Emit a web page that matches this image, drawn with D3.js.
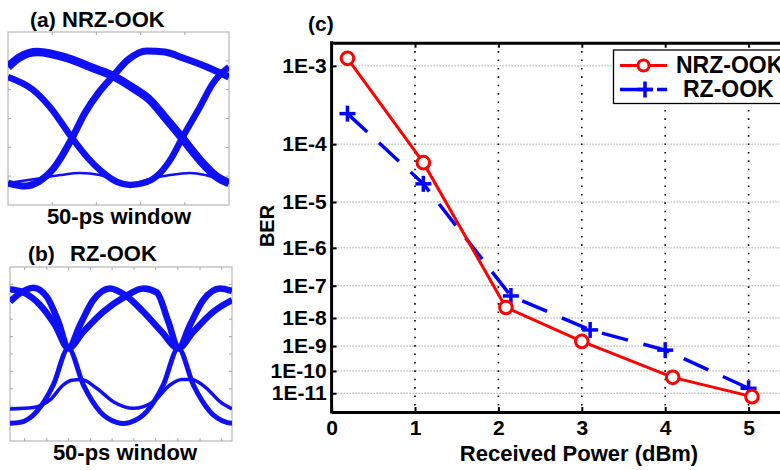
<!DOCTYPE html>
<html>
<head>
<meta charset="utf-8">
<script src="https://cdn.jsdelivr.net/npm/d3@7"></script>
<style>
body { margin: 0; background: #fff; }
text { font-family: "Liberation Sans", Arial, Helvetica, sans-serif; font-weight: bold; fill: #000; }
</style>
</head>
<body>
<script>
//BER curves for panel (c)
var powerNRZ = [0.19, 1.1, 2.09, 3.0, 4.09, 5.04];
var berNRZ = [1.2e-3, 5.1e-5, 2.2e-8, 1.5e-9, 5.3e-11, 6.9e-12];
var powerRZ = [0.19, 1.1, 2.15, 3.1, 4.0, 5.0];
var berRZ = [2.7e-4, 2.2e-5, 5.0e-8, 3.9e-9, 7.0e-10, 1.7e-11];

var berTicks = [1e-3, 1e-4, 1e-5, 1e-6, 1e-7, 1e-8, 1e-9, 1e-10, 1e-11];
var berLabels = ["1E-3", "1E-4", "1E-5", "1E-6", "1E-7", "1E-8", "1E-9", "1E-10", "1E-11"];
var berLimits = [1.72e-3, 1.19e-12];
var powerTicks = [0, 1, 2, 3, 4, 5];
var powerLimits = [0, 6];
var seriesNames = ["NRZ-OOK", "RZ-OOK"];

//eye traces: [time in ps, amplitude 0..100]
var eyeA_upper = [[0, 79.8], [2.7, 85.5], [6.6, 88.4], [13.3, 85.0], [19.2, 79.2], [23.8, 74.6], [28.3, 67.6],
    [32.1, 60.7], [36.0, 49.1], [39.4, 38.7], [43.4, 26.0], [47.3, 16.2], [50, 12.7]];
var eyeA_rise = [[0, 12.7], [3.8, 11.0], [7.2, 13.9], [10.0, 20.2], [12.2, 28.3], [14.5, 38.7], [17.4, 53.2],
    [20.6, 65.3], [23.8, 74.6], [27.1, 83.8], [31.4, 89.0], [35.5, 88.4], [39.6, 85.0], [45.0, 79.8], [50, 74.0]];
var eyeA_fall = [[0, 74.0], [5.7, 66.5], [9.5, 56.6], [14.5, 38.7], [17.9, 27.7], [20.8, 20.2], [24.7, 13.3],
    [27.6, 11.6], [31.4, 13.3], [34.4, 18.5], [37.1, 27.7], [39.4, 38.7], [43.4, 56.6], [46.4, 70.5], [47.9, 75.1], [50, 79.8]];
var eyeA_thin = [[0, 12.7], [6.1, 15.0], [11.8, 17.3], [16.3, 18.5], [20.8, 17.3], [24.2, 14.5], [27.6, 12.1],
    [32.1, 15.0], [36.6, 17.3], [41.2, 18.5], [44.6, 17.3], [47.5, 15.0], [50, 12.7]];

var eyeB_hump1 = [[0, 87.2], [3.0, 85.4], [6.76, 78.2], [10.13, 66.7], [13.14, 53.3], [15.77, 66.7], [18.77, 81.0],
    [22.52, 87.7], [25.9, 83.9], [30.03, 74.3], [34.16, 62.8], [37.91, 53.3], [40.54, 66.7], [43.54, 81.0], [47.3, 87.7], [50, 86.2]];
var eyeB_hump2 = [[0, 80.1], [2.25, 84.9], [5.25, 88.1], [8.26, 83.0], [10.9, 68.6], [13.14, 53.3], [16.52, 62.8],
    [21.02, 74.3], [25.9, 83.0], [30.03, 87.7], [33.03, 85.4], [35.66, 68.6], [37.91, 53.3], [41.29, 62.8], [45.8, 74.3], [50, 81.0]];
var eyeB_cross = [[0, 10.2], [2.25, 10.7], [6.01, 16.9], [9.76, 32.2], [13.14, 53.3], [16.52, 32.2], [20.27, 16.9],
    [24.02, 10.7], [25.52, 10.0], [27.02, 10.7], [30.78, 16.9], [34.53, 32.2], [37.91, 53.3], [41.29, 32.2], [45.04, 16.9], [48.8, 10.7], [50, 10.2]];
var eyeB_thin = [[0, 18.4], [5.25, 19.2], [9.01, 23.6], [12.01, 32.2], [13.89, 34.9], [16.14, 35.4], [19.52, 30.3],
    [23.27, 22.6], [27.78, 18.8], [32.28, 22.6], [36.03, 32.2], [38.66, 35.3], [40.91, 35.4], [44.29, 30.3], [47.29, 22.6], [50, 18.4]];

var eyeA_tickT = [10, 20, 30, 40];
var eyeA_tickV = [16.7, 33.3, 50, 66.7, 83.3];
var eyeB_tickT = [3.3, 8.3, 13.2, 18.1, 23, 27.9, 32.8, 37.8, 42.8, 47.7];
var eyeB_tickV = [10, 20, 30, 40, 50, 60, 70, 80, 90];

var svg = d3.select("body").append("svg")
    .attr("width", 780)
    .attr("height", 470);

//Q-scale helpers (BER axis is drawn on log10 of the Q factor)
function erfc(x) {
    var z = Math.abs(x), t = 1 / (1 + 0.5 * z);
    var r = t * Math.exp(-z * z - 1.26551223 + t * (1.00002368 + t * (0.37409196 + t * (0.09678418 +
        t * (-0.18628806 + t * (0.27886807 + t * (-1.13520398 + t * (1.48851587 + t * (-0.82215223 + t * 0.17087277)))))))));
    return x >= 0 ? r : 2 - r;
}
function qOf(ber) {
    var lo = 0, hi = 12;
    for (var i = 0; i < 60; i++) {
        var mid = (lo + hi) / 2;
        if (0.5 * erfc(mid / Math.SQRT2) > ber) lo = mid; else hi = mid;
    }
    return (lo + hi) / 2;
}
function lq(ber) { return Math.log10(qOf(ber)); }

//----- eye diagrams (a) and (b)
function drawEye(id, box, traces, widths, tickT, tickV) {
    var ex = d3.scaleLinear().domain([0, 50]).range([box.x0, box.x1]);
    var ey = d3.scaleLinear().domain([0, 100]).range([box.y1, box.y0]);

    svg.append("clipPath").attr("id", id)
        .append("rect")
        .attr("x", box.x0).attr("y", box.y0)
        .attr("width", box.x1 - box.x0).attr("height", box.y1 - box.y0);

    var g = svg.append("g");
    g.append("rect")
        .attr("x", box.x0).attr("y", box.y0)
        .attr("width", box.x1 - box.x0).attr("height", box.y1 - box.y0)
        .attr("fill", "#fff").attr("stroke", "#a8a8a8").attr("stroke-width", 1);

    //small ticks on all four sides
    tickT.forEach(function(t) {
        g.append("line").attr("x1", ex(t)).attr("x2", ex(t)).attr("y1", box.y0).attr("y2", box.y0 + 3)
            .attr("stroke", "#a8a8a8");
        g.append("line").attr("x1", ex(t)).attr("x2", ex(t)).attr("y1", box.y1).attr("y2", box.y1 - 3)
            .attr("stroke", "#a8a8a8");
    });
    tickV.forEach(function(v) {
        g.append("line").attr("x1", box.x0).attr("x2", box.x0 + 3).attr("y1", ey(v)).attr("y2", ey(v))
            .attr("stroke", "#a8a8a8");
        g.append("line").attr("x1", box.x1).attr("x2", box.x1 - 3).attr("y1", ey(v)).attr("y2", ey(v))
            .attr("stroke", "#a8a8a8");
    });

    var line = d3.line()
        .curve(d3.curveMonotoneX)
        .x(function(d) { return ex(d[0]); })
        .y(function(d) { return ey(d[1]); });

    var tg = g.append("g").attr("clip-path", "url(#" + id + ")");
    traces.forEach(function(tr, i) {
        tg.append("path")
            .datum(tr)
            .attr("d", line)
            .attr("fill", "none")
            .attr("stroke", "#1010f5")
            .attr("stroke-width", widths[i]);
    });
}

drawEye("clipA", {x0: 8, x1: 229, y0: 32, y1: 205},
    [eyeA_thin, eyeA_fall, eyeA_rise, eyeA_upper], [2.5, 6.5, 7, 8.5], eyeA_tickT, eyeA_tickV);
drawEye("clipB", {x0: 10, x1: 232, y0: 267, y1: 441},
    [eyeB_thin, eyeB_cross, eyeB_hump2, eyeB_hump1], [3.5, 5, 6.5, 6.5], eyeB_tickT, eyeB_tickV);

svg.append("text").attr("x", 30).attr("y", 27).attr("font-size", 21).text("(a)");
svg.append("text").attr("x", 62).attr("y", 27).attr("font-size", 22).text("NRZ-OOK");
svg.append("text").attr("x", 119).attr("y", 224).attr("font-size", 22).attr("text-anchor", "middle").text("50-ps window");
svg.append("text").attr("x", 28).attr("y", 261).attr("font-size", 21).text("(b)");
svg.append("text").attr("x", 70).attr("y", 261).attr("font-size", 22).text("RZ-OOK");
svg.append("text").attr("x", 125).attr("y", 460).attr("font-size", 22).attr("text-anchor", "middle").text("50-ps window");

//----- BER chart (c)
var plotLeft = 331.6, plotTop = 42.7, plotBottom = 412, plotRight = 832;
var xScale = d3.scaleLinear().domain(powerLimits).range([plotLeft, plotRight]);
var qScale = d3.scaleLinear().domain([lq(berLimits[0]), lq(berLimits[1])]).range([plotTop, plotBottom]);
function yPos(b) { return qScale(lq(b)); }

var chart = svg.append("g");

//grid
chart.selectAll(".hgrid").data(berTicks).enter().append("line")
    .attr("x1", plotLeft).attr("x2", plotRight)
    .attr("y1", yPos).attr("y2", yPos)
    .attr("stroke", "#7a7a7a").attr("stroke-width", 1).attr("stroke-dasharray", "1,2");
chart.selectAll(".vgrid").data(powerTicks.slice(1)).enter().append("line")
    .attr("x1", xScale).attr("x2", xScale)
    .attr("y1", plotTop).attr("y2", plotBottom)
    .attr("stroke", "#000").attr("stroke-width", 1.6).attr("stroke-dasharray", "1.6,6.8");

//axes
var yAxis = d3.axisLeft(qScale)
    .tickValues(berTicks.map(lq))
    .tickFormat(function(d, i) { return berLabels[i]; })
    .tickSizeInner(-5).tickSizeOuter(0).tickPadding(5);
var xAxis = d3.axisBottom(xScale)
    .tickValues(powerTicks)
    .tickFormat(d3.format("d"))
    .tickSizeInner(-5).tickSizeOuter(0).tickPadding(8);
var xTop = d3.axisTop(xScale)
    .tickValues(powerTicks.slice(1))
    .tickFormat("")
    .tickSizeInner(-5).tickSizeOuter(0);

var gy = chart.append("g").attr("transform", "translate(" + plotLeft + ",0)").call(yAxis);
var gx = chart.append("g").attr("transform", "translate(0," + plotBottom + ")").call(xAxis);
var gt = chart.append("g").attr("transform", "translate(0," + plotTop + ")").call(xTop);

[gy, gx, gt].forEach(function(g) {
    g.attr("font-family", null).attr("font-size", null);
    g.select(".domain").attr("stroke-width", 3).attr("stroke", "#000");
    g.selectAll(".tick line").attr("stroke-width", 2).attr("stroke", "#000");
    g.selectAll(".tick text").attr("font-size", 21).attr("fill", "#000");
});
gy.select(".domain").attr("d", "M0," + (plotTop - 1.5) + "V" + (plotBottom + 1.5));

//series
var line = d3.line()
    .x(function(d) { return xScale(d[0]); })
    .y(function(d) { return yPos(d[1]); });

var nrz = d3.zip(powerNRZ, berNRZ);
var rz = d3.zip(powerRZ, berRZ);

chart.append("path").datum(rz).attr("d", line)
    .attr("fill", "none").attr("stroke", "#0000ff").attr("stroke-width", 3.5)
    .attr("stroke-dasharray", "27,16");
chart.append("path").datum(nrz).attr("d", line)
    .attr("fill", "none").attr("stroke", "#ff0000").attr("stroke-width", 3);

function plus(g, cx, cy) {
    g.append("line").attr("x1", cx - 8).attr("x2", cx + 8).attr("y1", cy).attr("y2", cy)
        .attr("stroke", "#0000ff").attr("stroke-width", 3.5);
    g.append("line").attr("x1", cx).attr("x2", cx).attr("y1", cy - 8).attr("y2", cy + 8)
        .attr("stroke", "#0000ff").attr("stroke-width", 3.5);
}
rz.forEach(function(d) { plus(chart, xScale(d[0]), yPos(d[1])); });
chart.selectAll(".nrzpt").data(nrz).enter().append("circle")
    .attr("cx", function(d) { return xScale(d[0]); })
    .attr("cy", function(d) { return yPos(d[1]); })
    .attr("r", 6.3)
    .attr("fill", "#fff").attr("stroke", "#ff0000").attr("stroke-width", 3);

//labels
svg.append("text").attr("x", 308).attr("y", 31).attr("font-size", 21).text("(c)");
svg.append("text").attr("x", 579).attr("y", 461).attr("font-size", 22).attr("text-anchor", "middle")
    .text("Received Power (dBm)");
svg.append("text").attr("transform", "translate(274,226) rotate(-90)")
    .attr("font-size", 20).attr("text-anchor", "middle").text("BER");

//legend
var lg = svg.append("g");
lg.append("rect").attr("x", 613.5).attr("y", 50).attr("width", 200).attr("height", 53.5)
    .attr("fill", "#fff").attr("stroke", "#000").attr("stroke-width", 1.3);
lg.append("line").attr("x1", 620).attr("x2", 667).attr("y1", 65.5).attr("y2", 65.5)
    .attr("stroke", "#ff0000").attr("stroke-width", 3);
lg.append("circle").attr("cx", 643.5).attr("cy", 65.5).attr("r", 5.5)
    .attr("fill", "#fff").attr("stroke", "#ff0000").attr("stroke-width", 3);
lg.append("line").attr("x1", 620).attr("x2", 667).attr("y1", 89.5).attr("y2", 89.5)
    .attr("stroke", "#0000ff").attr("stroke-width", 3.5).attr("stroke-dasharray", "32,5,10");
plus(lg, 645, 89.5);
lg.append("text").attr("x", 676).attr("y", 72.5).attr("font-size", 23).text(seriesNames[0]);
lg.append("text").attr("x", 683).attr("y", 97).attr("font-size", 23).text(seriesNames[1]);
</script>
</body>
</html>
